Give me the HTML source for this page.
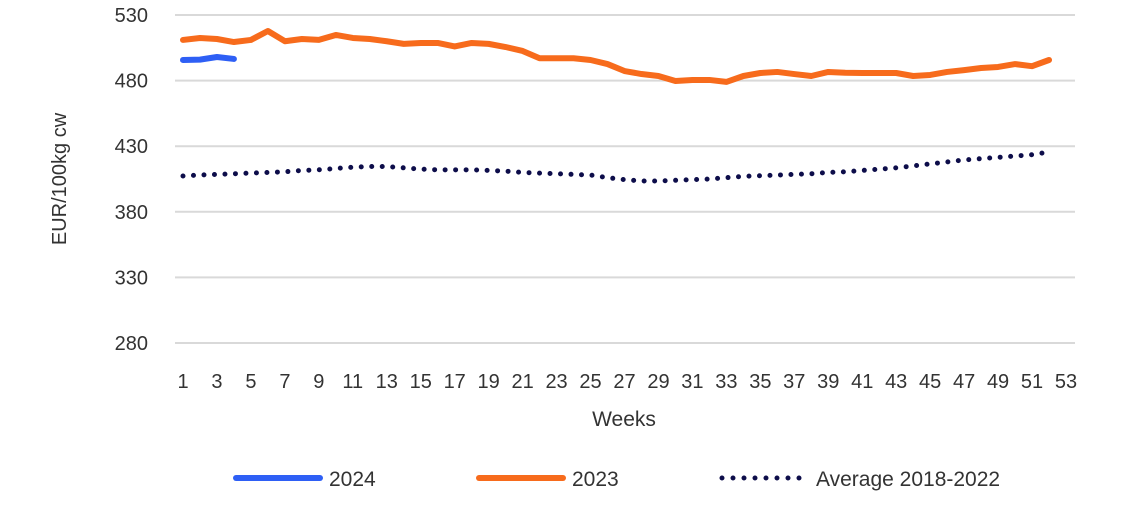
<!DOCTYPE html>
<html><head><meta charset="utf-8"><style>
body{margin:0;background:#fff;font-family:"Liberation Sans",sans-serif;}
svg text{font-family:"Liberation Sans",sans-serif;fill:#333;}
</style></head><body>
<svg width="1136" height="513">
<g id="grid"></g><g id="series"></g>
<text x="0" y="0" transform="translate(66,179) rotate(-90)" text-anchor="middle" font-size="20">EUR/100kg cw</text>
<text x="624" y="426" text-anchor="middle" font-size="21">Weeks</text>
<g>
<line x1="236" y1="478" x2="320" y2="478" stroke="#2e5ff5" stroke-width="6" stroke-linecap="round"/>
<text x="329" y="486" font-size="21">2024</text>
<line x1="479" y1="478" x2="563" y2="478" stroke="#f76b1c" stroke-width="6" stroke-linecap="round"/>
<text x="572" y="486" font-size="21">2023</text>
<line x1="722" y1="478" x2="800" y2="478" stroke="#0d0d4a" stroke-width="5" stroke-linecap="round" stroke-dasharray="0 11"/>
<text x="816" y="486" font-size="21">Average 2018-2022</text>
</g>
</svg>
<script>
const yTicks=[280,330,380,430,480,530];
const weeks=[];for(let i=1;i<=53;i++)weeks.push(i);
const s2024=[495.7,496,498,496.5];
const s2023=[511,512.5,511.7,509.4,511,517.8,510,511.7,511,514.8,512.5,511.7,510,508,508.7,508.7,506,508.7,508,505.6,502.6,497,497,497,495.7,492.6,487.3,485,483.5,479.7,480.5,480.5,479,483.5,485.8,486.6,485,483.5,486.6,486,485.8,485.8,485.8,483.5,484.3,486.6,488,489.6,490.4,492.6,491,495.7];
const avg=[407.3,408,408.5,409,409.5,410,410.5,411.5,412,413,414,414.5,414.5,413.5,412.5,412,412,412,411.5,411,410,409.5,409,408.5,408,406,404.5,403.5,403.5,404,404.5,405,406,407,407.5,408,408.5,409,410,410.5,411.5,412.5,413.5,415,416.5,418,419.5,420.5,421.5,422.5,423.5,425.6];
const NS="http://www.w3.org/2000/svg";
const X=w=>183+(w-1)*(1066-183)/52;
const Y=v=>343-(v-280)*(328/250);
const grid=document.getElementById('grid'),ser=document.getElementById('series');
yTicks.forEach(t=>{
 const l=document.createElementNS(NS,'line');
 l.setAttribute('x1',175);l.setAttribute('x2',1075);l.setAttribute('y1',Y(t));l.setAttribute('y2',Y(t));
 l.setAttribute('stroke','#d9d9d9');l.setAttribute('stroke-width',2);
 
 
 grid.appendChild(l);
 const tx=document.createElementNS(NS,'text');
 tx.setAttribute('x',148);tx.setAttribute('y',Y(t)+7);tx.setAttribute('text-anchor','end');tx.setAttribute('font-size',20);
 tx.textContent=t;
 
 
 grid.appendChild(tx);
});
weeks.filter(w=>w%2==1).forEach(w=>{
 const tx=document.createElementNS(NS,'text');
 tx.setAttribute('x',X(w));tx.setAttribute('y',388);tx.setAttribute('text-anchor','middle');tx.setAttribute('font-size',20);
 tx.textContent=w;
 
 
 grid.appendChild(tx);
});
function line(data,color,w,dash,name){
 const p=document.createElementNS(NS,'polyline');
 p.setAttribute('points',data.map((v,i)=>X(i+1)+','+Y(v)).join(' '));
 p.setAttribute('fill','none');p.setAttribute('stroke',color);p.setAttribute('stroke-width',w);
 p.setAttribute('stroke-linecap','round');p.setAttribute('stroke-linejoin','round');
 if(dash)p.setAttribute('stroke-dasharray',dash);
 
 
 ser.appendChild(p);
}
line(avg,'#0d0d4a',5,'0 10.5','series-average-2018-2022');
line(s2023,'#f76b1c',6,null,'series-2023');
line(s2024,'#2e5ff5',6,null,'series-2024');
</script>
</body></html>
